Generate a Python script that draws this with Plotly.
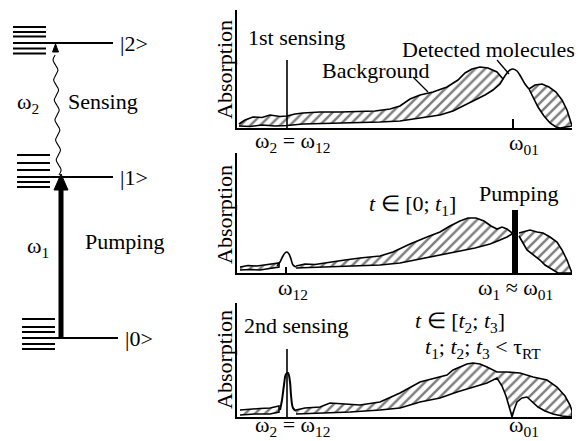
import plotly.graph_objects as go

FONT = "Liberation Serif, Times New Roman, serif"
FS = 22

# ---------------- energy level diagram (diagram units, y grows downward) ----------------
level_labels = ["|0>", "|1>", "|2>"]
level_y = [338, 177, 43]
level_x0 = [22, 17, 13]
level_x1 = [118, 113, 113]
sub_y = [[319, 327, 332, 344, 349],
         [155, 163, 170, 182, 187],
         [27, 32, 36.5, 48.5, 53.5]]
sub_x0 = [22, 17, 13]
sub_x1 = [55, 50, 46]

# ---------------- absorption spectra (freq: a.u., absorption: a.u.) ----------------
# Panel 1 : 1st sensing
p1_bgA_up_f = [2, 8, 16, 25, 33, 43, 50, 58, 66, 83, 103, 123, 138, 153, 163, 173, 183, 196, 210, 221, 228, 235, 243, 251, 260, 266]
p1_bgA_up_a = [4, 8, 11, 10.5, 13, 11.5, 12, 14, 15, 16, 16, 17, 17, 19, 22, 29, 33, 36, 41, 48, 55, 59, 61, 60, 56, 49]
p1_bgA_lo_f = [2, 13, 25, 38, 50, 66, 83, 103, 123, 143, 163, 183, 203, 216, 228, 238, 248, 256, 263, 266]
p1_bgA_lo_a = [2, 1.5, 3, 2, 2.5, 4, 4, 5, 5.5, 6, 7, 10, 13, 17, 23, 28, 33, 38, 44, 49]
p1_mol_f = [266, 270, 273, 276, 280, 284, 288, 292]
p1_mol_a = [49, 55, 58, 59, 57, 51, 44, 39]
p1_bgB_up_f = [292, 298, 305, 312, 319, 325, 330, 333, 335]
p1_bgB_up_a = [39, 43, 44, 41, 36, 28, 18, 9, 2]
p1_bgB_lo_f = [292, 296, 301, 307, 313, 319, 323]
p1_bgB_lo_a = [39, 31, 21, 12, 5, 1, 0]

# Panel 2 : pumping
p2_bgA0_up_f = [3, 11, 20, 28, 36, 42]
p2_bgA0_up_a = [6, 7.5, 7, 8, 9, 10]
p2_bgA0_lo_f = [3, 13, 23, 33, 42]
p2_bgA0_lo_a = [3, 3.5, 3, 4.5, 6]
p2_peak_f = [40, 43, 46, 48, 50, 52, 54, 56, 59]
p2_peak_a = [7, 11, 17, 20, 21, 19, 14, 8, 6]
p2_bgA_up_f = [59, 68, 78, 93, 108, 123, 143, 156, 173, 190, 203, 213, 223, 231, 239, 247, 254, 260, 265, 270, 275]
p2_bgA_up_a = [7, 9, 8.5, 11, 13, 15, 17, 21, 29, 36, 41, 47, 52, 55, 55, 52, 47, 44, 46, 44, 40]
p2_bgA_lo_f = [59, 83, 113, 143, 163, 183, 203, 223, 238, 253, 263, 270, 275]
p2_bgA_lo_a = [5, 6, 7, 8, 10, 14, 18, 22, 25, 29, 33, 36, 39]
p2_bgB_up_f = [282, 288, 293, 300, 306, 313, 320, 325, 330, 333, 335]
p2_bgB_up_a = [40, 42, 43, 41, 40, 36, 31, 23, 13, 5, 0]
p2_bgB_lo_f = [282, 286, 290, 296, 303, 308, 313, 318, 321]
p2_bgB_lo_a = [37, 30, 23, 18, 13, 8, 5, 2, 0]

# Panel 3 : 2nd sensing
p3_bgA0_up_f = [3, 13, 23, 33, 42]
p3_bgA0_up_a = [7, 8, 8.5, 9, 11]
p3_bgA0_lo_f = [3, 18, 33, 42]
p3_bgA0_lo_a = [2, 3, 3, 5]
p3_peak_f = [43, 45, 47, 49, 51, 53, 54, 56, 59]
p3_peak_a = [7, 17, 32, 43, 44, 35, 22, 9, 6]
p3_bg_up_f = [59, 68, 83, 93, 108, 123, 143, 163, 183, 200, 210, 216, 223, 230, 236, 243, 250, 260, 270, 283, 296, 310, 320, 328, 333, 335]
p3_bg_up_a = [7, 9, 10, 14, 13, 12, 15, 24, 35, 39, 42, 47, 50, 53, 54, 53, 50, 45, 45, 44, 40, 37, 30, 21, 12, 6]
p3_bg_lo_f = [59, 83, 113, 143, 163, 183, 203, 220, 236, 250, 260, 265, 269, 272, 274, 275, 277, 280, 285, 290, 295, 301, 308, 316, 325, 335]
p3_bg_lo_a = [3, 4, 5, 7, 9, 15, 19, 25, 30, 34, 39, 31, 21, 11, 4, 0, 7, 15, 19, 20, 16, 10, 6, 3, 1, 0]

w12 = 50      # sensing frequency omega_12
w01 = 276     # molecular line omega_01
sense_height = [68, 0, 68]
pump_height = 63

fig = go.Figure()

# ---------- axes layout ----------
PX, PY = 582, 441
xdom = [237 / PX, 572 / PX]
panels = [(128, 10), (273, 153), (417, 303)]
yranges = [118, 120, 114]

layout = dict(
    width=PX, height=PY, margin=dict(l=0, r=0, t=0, b=0),
    paper_bgcolor="white", plot_bgcolor="rgba(0,0,0,0)",
    showlegend=False, font=dict(family=FONT, size=FS, color="black"),
)
for i, ((base, top), yr) in enumerate(zip(panels, yranges)):
    n = "" if i == 0 else str(i + 1)
    layout["xaxis" + n] = dict(domain=xdom, range=[0, 335], showline=True, linewidth=2,
                               linecolor="black", showticklabels=False, ticks="",
                               showgrid=False, zeroline=False, anchor="y" + n)
    layout["yaxis" + n] = dict(domain=[1 - base / PY, 1 - top / PY], range=[0, yr],
                               showline=True, linewidth=2, linecolor="black",
                               showticklabels=False, ticks="", showgrid=False,
                               zeroline=False, anchor="x" + n)
layout["xaxis4"] = dict(domain=[0, 1], range=[0, PX], visible=False, anchor="y4")
layout["yaxis4"] = dict(domain=[0, 1], range=[PY, 0], visible=False, anchor="x4")
fig.update_layout(**layout)

LW = 1.6
pat = dict(shape="/", size=7, solidity=0.36, fgcolor="black", bgcolor="white")


def band(upf, upa, lof, loa, ax):
    fig.add_trace(go.Scatter(x=upf + lof[::-1], y=upa + loa[::-1], mode="lines",
                             fill="toself", fillpattern=pat, fillcolor="white",
                             line=dict(color="black", width=LW),
                             xaxis="x" + ax, yaxis="y" + ax, hoverinfo="skip"))


def line(xs, ys, ax, w=LW, shape="linear"):
    fig.add_trace(go.Scatter(x=xs, y=ys, mode="lines", line=dict(color="black", width=w, shape=shape),
                             xaxis="x" + ax, yaxis="y" + ax, hoverinfo="skip"))


# panel 1
band(p1_bgA_up_f, p1_bgA_up_a, p1_bgA_lo_f, p1_bgA_lo_a, "")
band(p1_bgB_up_f, p1_bgB_up_a, p1_bgB_lo_f, p1_bgB_lo_a, "")
line(p1_mol_f, p1_mol_a, "", shape="spline")
line([w12, w12], [0, sense_height[0]], "")
line([w01, w01], [0, 9], "", w=2)
line([176, 191], [51, 36], "", w=1.3)
line([260, 272], [68, 54], "", w=1.3)

# panel 2
band(p2_bgA0_up_f, p2_bgA0_up_a, p2_bgA0_lo_f, p2_bgA0_lo_a, "2")
band(p2_bgA_up_f, p2_bgA_up_a, p2_bgA_lo_f, p2_bgA_lo_a, "2")
band(p2_bgB_up_f, p2_bgB_up_a, p2_bgB_lo_f, p2_bgB_lo_a, "2")
line(p2_peak_f, p2_peak_a, "2", shape="spline")
line([w12 - 1, w12 - 1], [0, 6], "2", w=2)
line([w01 + 2, w01 + 2], [0, pump_height], "2", w=6)

# panel 3
band(p3_bgA0_up_f, p3_bgA0_up_a, p3_bgA0_lo_f, p3_bgA0_lo_a, "3")
band(p3_bg_up_f, p3_bg_up_a, p3_bg_lo_f, p3_bg_lo_a, "3")
line(p3_peak_f, p3_peak_a, "3", w=2, shape="spline")
line([w12, w12], [0, sense_height[2]], "3")

# ---------- energy level diagram ----------
for y, x0, x1, sy, sx0, sx1 in zip(level_y, level_x0, level_x1, sub_y, sub_x0, sub_x1):
    line([x0, x1], [y, y], "4", w=2.2)
    for yy in sy:
        line([sx0, sx1], [yy, yy], "4", w=2.2)

# pumping arrow |0> -> |1>
line([61, 61], [level_y[0], level_y[1] + 10], "4", w=5)
fig.add_trace(go.Scatter(x=[61, 54, 68, 61], y=[level_y[1] - 3, level_y[1] + 13, level_y[1] + 13, level_y[1] - 3],
                         mode="lines", fill="toself", fillcolor="black", line=dict(color="black", width=1),
                         xaxis="x4", yaxis="y4", hoverinfo="skip"))
# sensing (wavy) arrow |1> -> |2>
wy = list(range(level_y[1] - 2, level_y[2] + 8, -5))
wx = [59 - 4 * k / len(wy) + [0, 2.3, 0, -2.3][k % 4] for k in range(len(wy))]
line(wx, wy, "4", w=1.1, shape="spline")
fig.add_trace(go.Scatter(x=[55.5, 52.5, 58.5, 55.5], y=[level_y[2] + 1, level_y[2] + 9, level_y[2] + 9, level_y[2] + 1],
                         mode="lines", fill="toself", fillcolor="black", line=dict(color="black", width=1),
                         xaxis="x4", yaxis="y4", hoverinfo="skip"))

# ---------- texts ----------
def txt(x, y, s, size=FS, angle=0):
    fig.add_annotation(x=x, y=y, xref="x4", yref="y4", text=s, showarrow=False,
                       font=dict(family=FONT, size=size, color="black"), textangle=angle)


txt(134, 43, level_labels[2])
txt(134, 177, level_labels[1])
txt(139, 338, level_labels[0])
txt(28, 103, "ω<sub>2</sub>")
txt(103, 101, "Sensing")
txt(38, 247, "ω<sub>1</sub>")
txt(124, 241, "Pumping")

for cy in [70, 215, 360]:
    txt(224, cy, "Absorption", angle=-90)

txt(296, 37, "1st sensing")
txt(376, 70, "Background")
txt(488, 49, "Detected molecules")
txt(292, 142, "ω<sub>2</sub> = ω<sub>12</sub>")
txt(524, 144, "ω<sub>01</sub>")

txt(412, 205, "<i>t</i> ∈ [0; <i>t</i><sub>1</sub>]")
txt(518, 193, "Pumping")
txt(293, 289, "ω<sub>12</sub>")
txt(515, 289, "ω<sub>1</sub> ≈ ω<sub>01</sub>")

txt(296, 325, "2nd sensing")
txt(460, 322, "<i>t</i> ∈ [<i>t</i><sub>2</sub>; <i>t</i><sub>3</sub>]")
txt(483, 348, "<i>t</i><sub>1</sub>; <i>t</i><sub>2</sub>; <i>t</i><sub>3</sub> < τ<sub>RT</sub>")
txt(292, 426, "ω<sub>2</sub> = ω<sub>12</sub>")
txt(524, 426, "ω<sub>01</sub>")

fig.write_html("out.html", config={"displayModeBar": False},
               post_script="document.body.style.margin='0px';document.body.style.padding='0px';")
